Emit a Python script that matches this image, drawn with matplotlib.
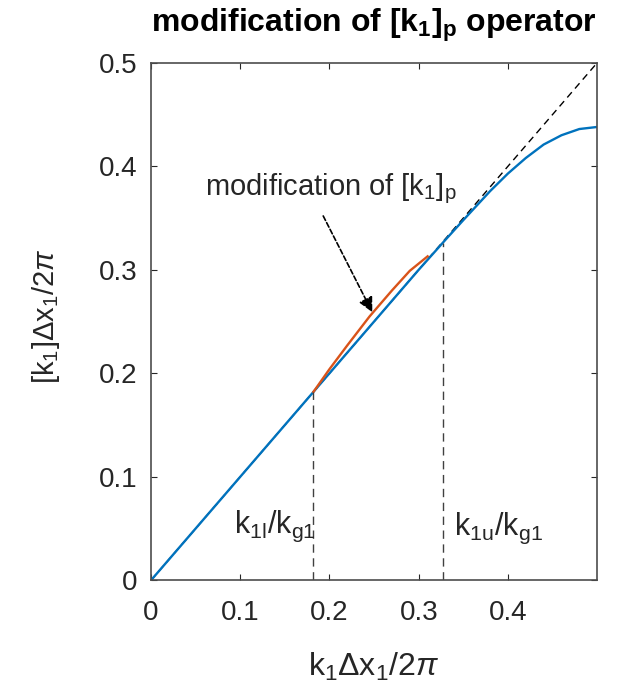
import matplotlib
matplotlib.use("Agg")
import matplotlib.pyplot as plt
import numpy as np

plt.rcParams['font.family'] = ['Liberation Sans', 'DejaVu Sans']
plt.rcParams['mathtext.fontset'] = 'custom'
plt.rcParams['mathtext.rm'] = 'Liberation Sans'
plt.rcParams['mathtext.it'] = 'Liberation Sans:italic'
plt.rcParams['mathtext.bf'] = 'Liberation Sans:bold'

# modified wavenumber of the scheme
k_x = [0, 0.1, 0.2, 0.3, 0.33, 0.35, 0.38, 0.40, 0.42, 0.44, 0.46, 0.48, 0.5]
k_y = [0, 0.1, 0.2, 0.3, 0.329, 0.348, 0.376, 0.393, 0.408, 0.421, 0.430, 0.436, 0.438]

# modified part between k1l and k1u
mod_x = [0.182, 0.2, 0.22, 0.245, 0.27, 0.29, 0.31]
mod_y = [0.182, 0.204, 0.227, 0.255, 0.280, 0.299, 0.313]

k1l = 0.182
k1u = 0.327

grey = '#262626'

fig = plt.figure(figsize=(6.24, 6.9), dpi=100)
ax = fig.add_axes([0.242, 0.159, 0.715, 0.750])

ax.plot([0, 0.5], [0, 0.5], color='k', lw=1.0, dashes=(5, 3.5))
ax.plot(k_x, k_y, color='#0072BD', lw=1.7)
ax.plot(mod_x, mod_y, color='#D95319', lw=1.7)
ax.plot([k1l, k1l], [0, np.interp(k1l, k_x, k_y)], color='#404040', lw=1.0, dashes=(6, 4))
ax.plot([k1u, k1u], [0, np.interp(k1u, k_x, k_y)], color='#404040', lw=1.0, dashes=(6, 4))

ax.text(k1l + 0.003, 0.052, r'$\mathrm{k_{1l}/k_{g1}}$', fontsize=22, color=grey,
        ha='right', va='center')
ax.text(k1u + 0.012, 0.050, r'$\mathrm{k_{1u}/k_{g1}}$', fontsize=22, color=grey,
        ha='left', va='center')

ax.text(0.202, 0.378, r'modification of $\mathrm{[k_1]_p}$', fontsize=21, color=grey,
        ha='center', va='center')
ax.annotate('', xy=(0.248, 0.259), xytext=(0.193, 0.352),
            arrowprops=dict(arrowstyle='-|>', color='k', lw=1.2, ls=(0, (3, 1.5)),
                            shrinkA=0, shrinkB=0, mutation_scale=22))

ax.set_xlim(0, 0.5)
ax.set_ylim(0, 0.5)
ax.set_xticks([0, 0.1, 0.2, 0.3, 0.4])
ax.set_xticklabels(['0', '0.1', '0.2', '0.3', '0.4'])
ax.set_yticks([0, 0.1, 0.2, 0.3, 0.4, 0.5])
ax.set_yticklabels(['0', '0.1', '0.2', '0.3', '0.4', '0.5'])
ax.tick_params(direction='in', top=True, right=True, length=4, width=0.8,
               labelsize=20, colors=grey)
ax.tick_params(axis='x', pad=14)
ax.tick_params(axis='y', pad=10)
for s in ax.spines.values():
    s.set_color('#4d4d4d')
    s.set_linewidth(1.2)

ax.set_xlabel(r'$\mathrm{k_1\Delta x_1/2}\pi$', fontsize=23, color=grey, labelpad=18)
ax.set_ylabel(r'$\mathrm{[k_1]\Delta x_1/2}\pi$', fontsize=21, color=grey)
ax.yaxis.set_label_coords(-0.20, 0.51)
ax.set_title(r'modification of $\mathbf{[k_1]_p}$ operator', fontsize=23,
             fontweight='bold', color='k', pad=22)

fig.savefig('out.png', dpi=100)
